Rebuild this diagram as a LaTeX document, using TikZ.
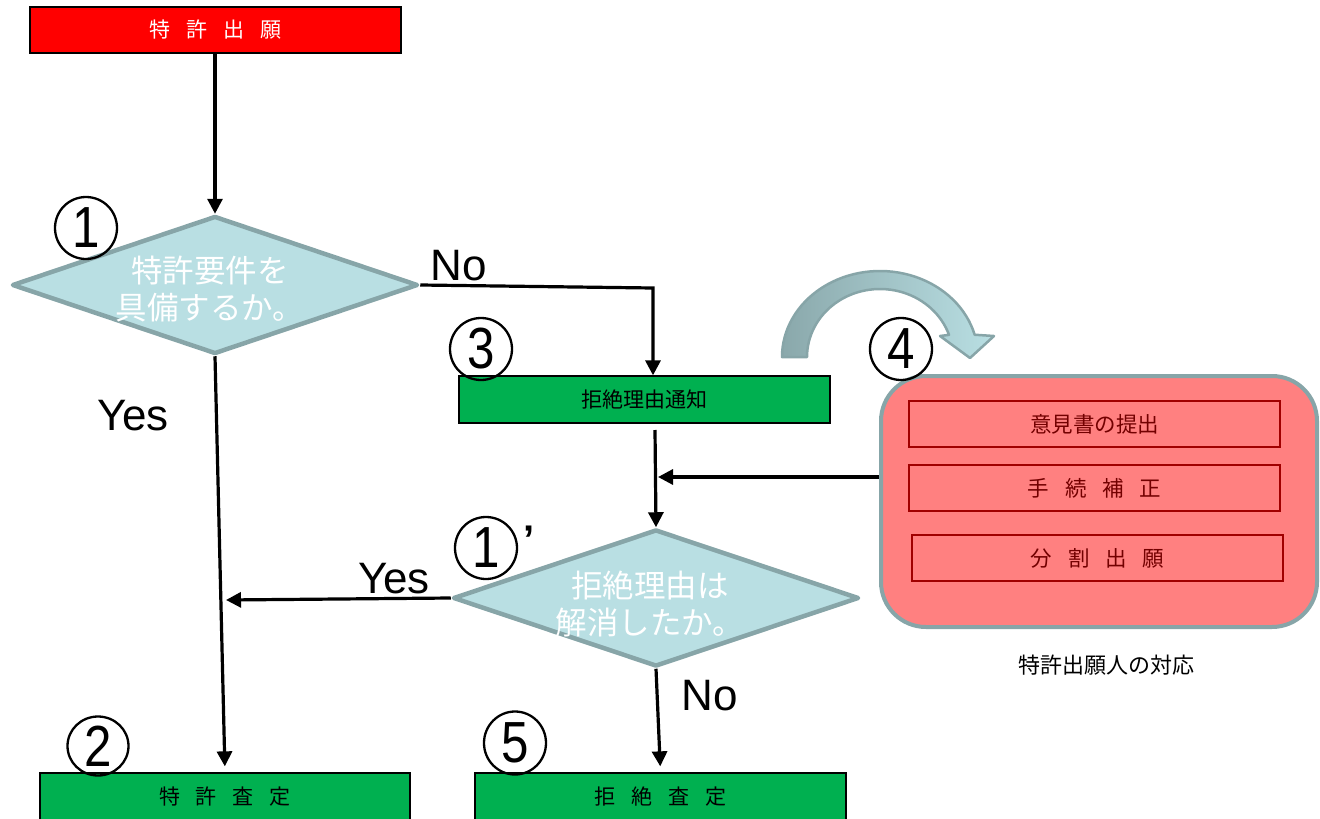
\documentclass[tikz,border=0pt]{standalone}
\usepackage{fontspec}
\setmainfont{Liberation Sans}
\newfontfamily\jp{Noto Sans CJK JP}
\newfontfamily\numfont[FakeStretch=0.85]{Liberation Sans}
\usetikzlibrary{shapes.geometric,arrows.meta,calc}

\definecolor{boxred}{RGB}{255,0,0}
\definecolor{boxgreen}{RGB}{0,176,80}
\definecolor{diafill}{RGB}{185,223,227}
\definecolor{diaedge}{RGB}{135,165,168}
\definecolor{arcdark}{RGB}{138,168,171}
\definecolor{pinkfill}{RGB}{255,128,128}
\definecolor{inneredge}{RGB}{160,0,0}
\definecolor{innertext}{RGB}{115,0,0}

% spaced characters inside the boxes
\newcommand{\gp}{\hspace{16pt}}

\begin{document}
\begin{tikzpicture}[x=1pt,y=-1pt,
  flowbox/.style={draw=black, line width=1.3, minimum width=371, minimum height=46,
    inner sep=0, font=\jp\fontsize{21}{24}\selectfont},
  decision/.style={diamond, draw=diaedge, fill=diafill, line width=4.5, inner sep=0,
    line join=round},
  dtext/.style={text=white, align=center, font=\jp\fontsize{31.5}{37}\selectfont},
  option/.style={draw=inneredge, line width=1.4, minimum width=371, minimum height=46,
    inner sep=0, text=innertext, font=\jp\fontsize{21.5}{24}\selectfont},
  conn/.style={line width=3.2, -{Triangle[length=15pt,width=15pt]}},
  answer/.style={font=\fontsize{44}{44}\selectfont},
  stepno/.style={draw=black, ellipse, line width=2.3, minimum width=62,
    minimum height=62, inner sep=0, font=\numfont\fontsize{58}{58}\selectfont},
]
\useasboundingbox (0,0) rectangle (1320,819);

% start box
\node[flowbox, fill=boxred, text=white] (apply) at (215.5,30) {特\gp 許\gp 出\gp 願};

% first decision
\node[decision, minimum width=406, minimum height=138] (q1) at (215,285) {};
\node[dtext] (q1t) at (210,289) {特許要件を\\具備するか。};

% notice of reasons for refusal
\node[flowbox, fill=boxgreen, minimum height=47] (notice) at (644.5,399.5) {拒絶理由通知};

% second decision
\node[decision, minimum width=406, minimum height=137] (q2) at (656,598) {};
\node[dtext] (q2t) at (650,604) {拒絶理由は\\解消したか。};

% final outcomes
\node[flowbox, fill=boxgreen, minimum height=47, minimum width=370] (grant) at (225,796.5) {特\gp 許\gp 査\gp 定};
\node[flowbox, fill=boxgreen, minimum height=47] (reject) at (660.5,796.5) {拒\gp 絶\gp 査\gp 定};

% applicant's responses
\node[draw=diaedge, fill=pinkfill, line width=4, rounded corners=45,
  minimum width=436, minimum height=251, inner sep=0] (resp) at (1099,501.5) {};
\node[option] (opt1) at (1094.5,424) {意見書の提出};
\node[option] (opt2) at (1094.5,488) {手\gp 続\gp 補\gp 正};
\node[option] (opt3) at (1097.5,558) {分\gp 割\gp 出\gp 願};
\node[font=\jp\fontsize{22}{24}\selectfont] (caption) at (1106,665) {特許出願人の対応};

% curved block arrow towards the responses
\filldraw[draw=diaedge, line width=2.5, left color=arcdark, right color=diafill, line join=round]
  plot[domain=180:345, variable=\t, samples=50] ({880+98*cos(\t)},{357+86*sin(\t)})
  -- (994,336) -- (970,358) -- (940,336)
  -- plot[domain=341:180, variable=\t, samples=50] ({880+73*cos(\t)},{357+68*sin(\t)})
  -- cycle;

% connectors
\coordinate (nbend) at (653,288);
\coordinate (noticeout) at (655,430);
\coordinate (joinpt) at (658,477);
\coordinate (yestip) at (226,600);

\draw[conn] (q1.north |- apply.south) -- (q1.north);
\draw[conn] (q1.east) -- (nbend) -- (nbend |- notice.north);
\draw[conn, shorten >=6pt] (q1.south) -- (grant.north);
\draw[conn] (noticeout) -- (q2.north);
\draw[conn] (resp.west |- joinpt) -- (joinpt);
\draw[conn] (q2.west) -- (yestip);
\draw[conn, shorten >=6pt] (q2.south) -- (reject.north);

% branch labels
\node[answer] (no1) at (459,266) {No};
\node[answer] (yes1) at (133,416) {Yes};
\node[answer] (yes2) at (394,579) {Yes};
\node[answer] (no2) at (710,696) {No};

% step numbers
\node[stepno] (s1) at (86,228) {1};
\node[stepno] (s1b) at (486,548) {1};
\node[font=\bfseries\fontsize{40}{40}\selectfont] (prime) at (529,540) {’};
\node[stepno, minimum width=61, minimum height=59] (s2) at (98,746) {2};
\node[stepno] (s3) at (481,349) {3};
\node[stepno] (s4) at (901,349) {4};
\node[stepno, minimum width=62, minimum height=63] (s5) at (515,743) {5};
\end{tikzpicture}
\end{document}
